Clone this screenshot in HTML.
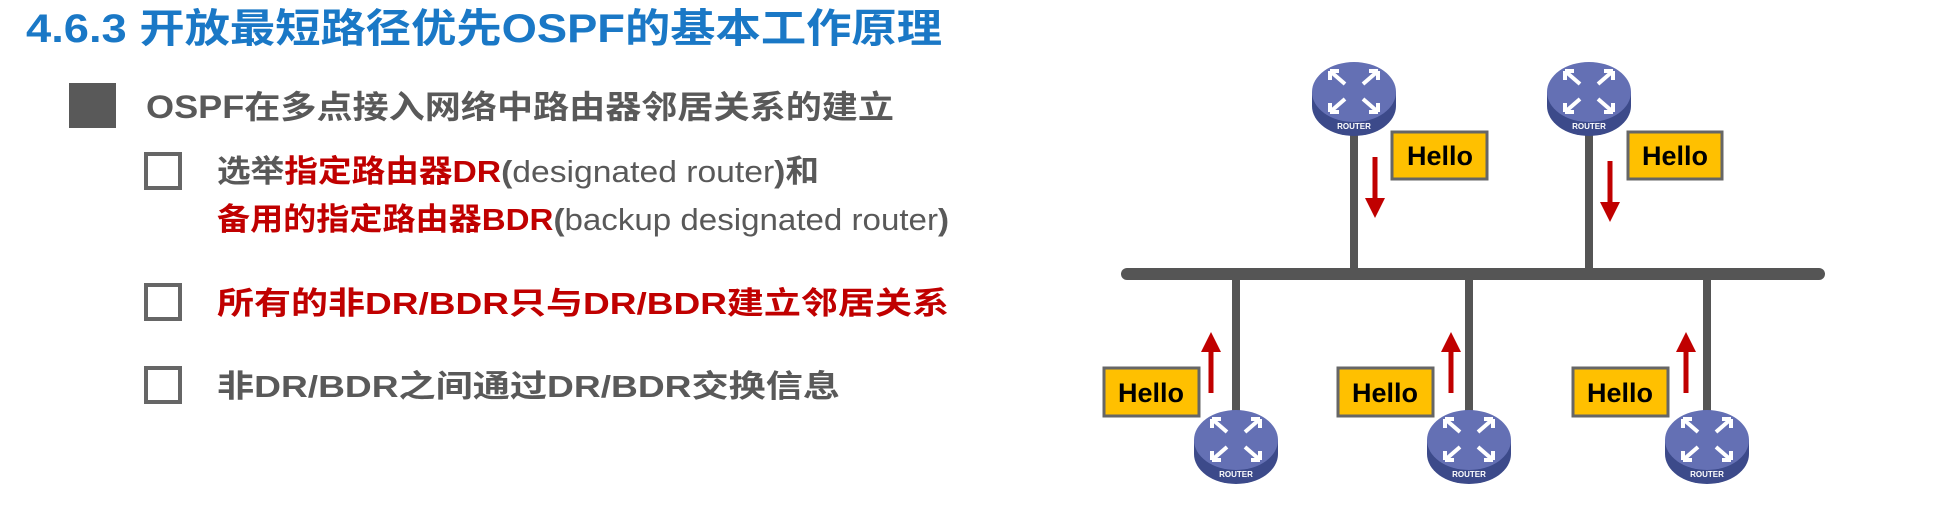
<!DOCTYPE html>
<html><head><meta charset="utf-8"><style>
html,body{margin:0;padding:0;background:#fff;width:1934px;height:525px;overflow:hidden}
svg{display:block}
text{font-family:"Liberation Sans","Noto Sans CJK SC",sans-serif;font-weight:bold}
</style></head><body>
<svg width="1934" height="525" xmlns="http://www.w3.org/2000/svg">
<defs>
<g id="rt">
  <ellipse cx="0" cy="8" rx="42" ry="30" fill="#3c4a8a"/>
  <rect x="-42" y="-6" width="84" height="14" fill="#3c4a8a"/>
  <ellipse cx="0" cy="-6" rx="42" ry="30" fill="#6470b4"/>
  <g stroke="#fff" stroke-width="4" fill="none">
    <path d="M-24,-27 L-9,-14 M-24,-27 v9 M-24,-27 h9"/>
    <path d="M24,-27 L9,-14 M24,-27 v9 M24,-27 h-9"/>
    <path d="M-24,14 L-9,1 M-24,14 v-9 M-24,14 h9"/>
    <path d="M24,14 L9,1 M24,14 v-9 M24,14 h-9"/>
  </g>
  <text x="0" y="31" font-size="8" fill="#fff" text-anchor="middle">ROUTER</text>
</g>
<marker id="ah" markerWidth="4" markerHeight="4" refX="2" refY="2" orient="auto" markerUnits="strokeWidth">
  <path d="M0,0 L4,2 L0,4 z" fill="#c00000"/>
</marker>
</defs>

<text x="26" y="42" font-size="40" fill="#1a78c6" textLength="916" lengthAdjust="spacingAndGlyphs">4.6.3 开放最短路径优先OSPF的基本工作原理</text>

<rect x="69" y="83" width="47" height="45" fill="#595959"/>
<text x="146" y="118" font-size="32" fill="#595959" textLength="748" lengthAdjust="spacingAndGlyphs">OSPF在多点接入网络中路由器邻居关系的建立</text>

<rect x="146" y="154" width="34" height="34" fill="none" stroke="#666" stroke-width="4"/>
<text x="217" y="182" font-size="31" textLength="602" lengthAdjust="spacingAndGlyphs"><tspan fill="#595959">选举</tspan><tspan fill="#c00000">指定路由器DR</tspan><tspan fill="#595959">(</tspan><tspan fill="#595959" font-weight="normal">designated router</tspan><tspan fill="#595959">)和</tspan></text>
<text x="217" y="230" font-size="31" textLength="732" lengthAdjust="spacingAndGlyphs"><tspan fill="#c00000">备用的指定路由器BDR</tspan><tspan fill="#595959">(</tspan><tspan fill="#595959" font-weight="normal">backup designated router</tspan><tspan fill="#595959">)</tspan></text>

<rect x="146" y="285" width="34" height="34" fill="none" stroke="#666" stroke-width="4"/>
<text x="217" y="314" font-size="31" fill="#c00000" textLength="732" lengthAdjust="spacingAndGlyphs">所有的非DR/BDR只与DR/BDR建立邻居关系</text>

<rect x="146" y="368" width="34" height="34" fill="none" stroke="#666" stroke-width="4"/>
<text x="217" y="397" font-size="31" fill="#595959" textLength="623" lengthAdjust="spacingAndGlyphs">非DR/BDR之间通过DR/BDR交换信息</text>

<g stroke="#555" stroke-width="8">
  <line x1="1354" y1="120" x2="1354" y2="272"/>
  <line x1="1589" y1="120" x2="1589" y2="272"/>
  <line x1="1236" y1="276" x2="1236" y2="425"/>
  <line x1="1469" y1="276" x2="1469" y2="425"/>
  <line x1="1707" y1="276" x2="1707" y2="425"/>
</g>
<line x1="1127" y1="274" x2="1819" y2="274" stroke="#555" stroke-width="12" stroke-linecap="round"/>

<use href="#rt" x="1354" y="98"/>
<use href="#rt" x="1589" y="98"/>
<use href="#rt" x="1236" y="446"/>
<use href="#rt" x="1469" y="446"/>
<use href="#rt" x="1707" y="446"/>

<g fill="#ffc000" stroke="#666" stroke-width="3">
  <rect x="1392" y="132" width="95" height="47"/>
  <rect x="1628" y="132" width="94" height="47"/>
  <rect x="1104" y="368" width="95" height="48"/>
  <rect x="1338" y="368" width="95" height="48"/>
  <rect x="1573" y="368" width="95" height="48"/>
</g>
<g font-size="27" fill="#000" text-anchor="middle">
  <text x="1440" y="165">Hello</text>
  <text x="1675" y="165">Hello</text>
  <text x="1151" y="402">Hello</text>
  <text x="1385" y="402">Hello</text>
  <text x="1620" y="402">Hello</text>
</g>

<g stroke="#c00000" stroke-width="5" marker-end="url(#ah)">
  <line x1="1375" y1="157" x2="1375" y2="208"/>
  <line x1="1610" y1="161" x2="1610" y2="212"/>
  <line x1="1211" y1="393" x2="1211" y2="342"/>
  <line x1="1451" y1="393" x2="1451" y2="342"/>
  <line x1="1686" y1="393" x2="1686" y2="342"/>
</g>
</svg>
</body></html>
